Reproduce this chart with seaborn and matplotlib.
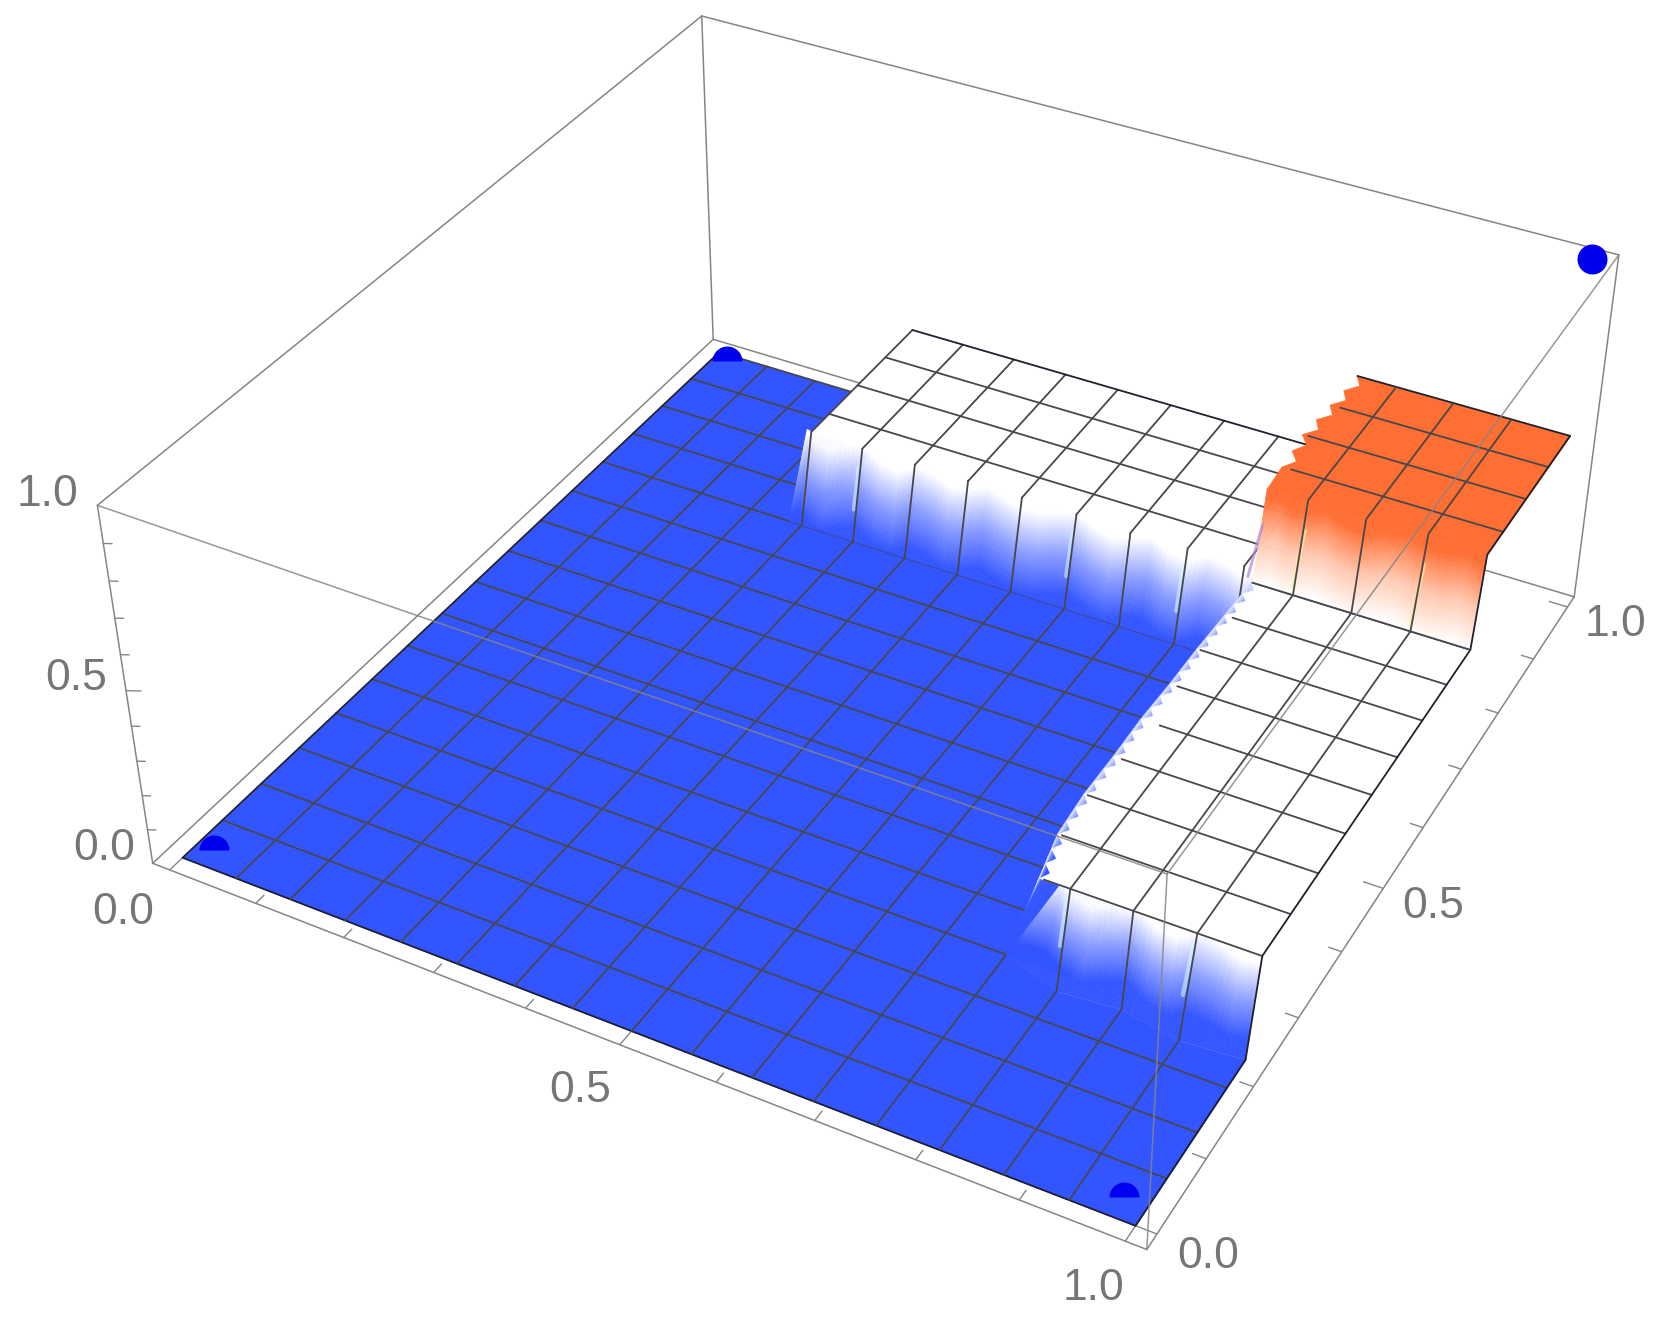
import numpy as np
import matplotlib
matplotlib.use("Agg")
import matplotlib.pyplot as plt
import seaborn as sns
from mpl_toolkits.mplot3d.art3d import Poly3DCollection

# ---------- data ----------
levels = [0.0, 0.255, 0.5]                    # blue floor, white plateau, orange plateau
n_cells = 16
box_pad = 0.02
tick_x = [0.0, 0.1, 0.2, 0.3, 0.4, 0.5, 0.6, 0.7, 0.8, 0.9, 1.0]
tick_y = [0.0, 0.1, 0.2, 0.3, 0.4, 0.5, 0.6, 0.7, 0.8, 0.9, 1.0]
tick_z = [0.1, 0.2, 0.3, 0.4, 0.5, 0.6, 0.7, 0.8, 0.9]
major_ticks = [0.0, 0.5, 1.0]
points_x = [0.020, 0.977, 0.017, 1.000]
points_y = [0.023, 0.025, 0.988, 1.000]
points_z = [0.0, 0.0, 0.0, 1.0]

cliff_front_y = 0.25
cliff_back_y = 0.75
front_base_y = [0.25, 0.228, 0.234, 0.222, 0.228]          # columns 12..16
back_top_cols = [3.9, 4, 5, 6, 7, 8, 9, 10, 11, 12, 12.3]
back_top_y = [0.776, 0.774, 0.772, 0.772, 0.772, 0.772, 0.772, 0.769, 0.772, 0.772, 0.772]
back_base_cols = [3.75, 4, 5, 6, 7, 8, 9, 10, 11, 12, 12.3]
orange_top_cols = [12.3, 13, 14, 15, 16]
orange_top_y = [0.772, 0.772, 0.769, 0.775, 0.770]
mid_edge_rows = [4, 5, 6, 7, 8, 9, 10, 11, 12]
mid_edge_cols = [12.50, 12.30, 12.24, 12.24, 12.22, 12.24, 12.24, 12.26, 12.28]
mid_line_cols = [12.58, 12.37, 12.30, 12.38, 12.54, 12.37, 12.30, 12.40, 12.30]
orange_edge_rows = [13, 14, 15, 16]
orange_edge_cols = [12.26, 12.18, 12.24, 12.30]
orange_line_cols = [12.43, 12.29, 12.43, 12.31]
streak_blue = [0.04, -0.03, -0.07, 0.01, 0.06, -0.02, -0.07, 0.03,
               0.06, -0.05, -0.02, 0.05, 0.02, -0.06, 0.00, 0.05]
streak_orange = [0.02, -0.03, 0.03, 0.00, -0.04, 0.02, 0.04, -0.02, -0.03, 0.03]
cyan_back_cols = [5, 9, 11]
cyan_front_cols = [13, 15]
yellow_cols = [13, 15]

tick_labels = ["0.0", "0.5", "1.0"]
label_px_x = [(123, 912), (580, 1090), (1093, 1289)]
label_px_y = [(1208, 1257), (1433, 907), (1615, 625)]
label_px_z = [(104, 849), (76, 679), (48, 494)]

# box corners in picture pixels, used to recover the camera
corner_px = {(0, 0, 0): (153, 863), (1, 0, 0): (1147, 1250), (1, 1, 0): (1574, 597), (0, 1, 0): (713, 339),
             (0, 0, 1): (97, 506), (1, 0, 1): (1167, 873), (1, 1, 1): (1619, 255), (0, 1, 1): (702, 16)}

BLUE = "#3355FF"
ORANGE = "#FF6E33"
POINT = "#0000F0"
BOX = "#858585"
MESH = "#47474C"
EDGE = "#20202E"
TEXT = "#767676"
W, H = 1659, 1323

sns.set_theme(style="white")
plt.rcParams["font.family"] = ["Liberation Sans", "DejaVu Sans"]
blue_map = sns.blend_palette([BLUE, "#8C9EFF", "#FFFFFF"], as_cmap=True)
orange_map = sns.blend_palette(["#FFFFFF", "#FFC9B0", ORANGE], as_cmap=True)

fig = plt.figure(figsize=(W / 100, H / 100), dpi=100)
ax = fig.add_axes([0, 0, 1, 1], projection="3d", computed_zorder=False)
ax.set_axis_off()


# ---------- camera fitted to the box corners ----------
def world(c):
    lo, hi = -box_pad, 1 + box_pad
    return (hi if c[0] else lo, hi if c[1] else lo, float(c[2]))


def camera_matrix():
    to_data = ax.transData.inverted()
    rows = []
    for key, (px, py) in corner_px.items():
        u, v = to_data.transform((px, H - py))
        X, Y, Z = world(key)
        rows.append([X, Y, Z, 1, 0, 0, 0, 0, -u * X, -u * Y, -u * Z, -u])
        rows.append([0, 0, 0, 0, X, Y, Z, 1, -v * X, -v * Y, -v * Z, -v])
    P = np.linalg.svd(np.array(rows))[2][-1].reshape(3, 4)
    P = P / (P[2] @ np.array([0.5, 0.5, 0.5, 1.0]))
    return np.array([P[0], P[1], [0, 0, 0, -1.0], P[2]])


ax.get_proj = camera_matrix


# ---------- drawing helpers ----------
def line(pts, color=MESH, lw=1.3, z=3, alpha=None):
    p = np.array(pts, float)
    ax.plot(p[:, 0], p[:, 1], p[:, 2], color=color, lw=lw, zorder=z, alpha=alpha,
            solid_capstyle="round", solid_joinstyle="round")


def fill(pts, color, z):
    ax.add_collection3d(Poly3DCollection([np.array(pts, float)], facecolors=[color], edgecolors=[color],
                                         linewidths=0.4, zorder=z))


def wall(bottom, top, cmap, lo, span, streak, z, n_sub=12, n_t=40):
    bottom, top = np.array(bottom, float), np.array(top, float)
    verts, cols = [], []
    wrap = list(streak) + [streak[0]]
    for a in range(len(bottom) - 1):
        for j in range(n_sub):
            s0, s1 = j / n_sub, (j + 1) / n_sub
            b0, b1 = bottom[a] + (bottom[a + 1] - bottom[a]) * s0, bottom[a] + (bottom[a + 1] - bottom[a]) * s1
            t0, t1 = top[a] + (top[a + 1] - top[a]) * s0, top[a] + (top[a + 1] - top[a]) * s1
            off = np.interp((a + s0) * 3 % len(streak), range(len(wrap)), wrap)
            for i in range(n_t):
                u0, u1 = i / n_t, (i + 1) / n_t
                verts.append([b0 + (t0 - b0) * u0, b1 + (t1 - b1) * u0, b1 + (t1 - b1) * u1, b0 + (t0 - b0) * u1])
                val = np.clip(((i + 0.5) / n_t - lo + off) / span, 0, 1)
                cols.append(cmap(val))
    ax.add_collection3d(Poly3DCollection(verts, facecolors=cols, edgecolors=cols, linewidths=0.35, zorder=z))


def saw(cols, rows, teeth, depth):
    pts = []
    for a in range(len(rows) - 1):
        for j in range(teeth):
            t0, t1 = j / teeth, (j + 0.5) / teeth
            pts.append((cols[a] + (cols[a + 1] - cols[a]) * t0, rows[a] + (rows[a + 1] - rows[a]) * t0))
            pts.append((cols[a] + (cols[a + 1] - cols[a]) * t1 + depth, rows[a] + (rows[a + 1] - rows[a]) * t1))
    pts.append((cols[-1], rows[-1]))
    return [(x / n_cells, y / n_cells) for x, y in pts]


c = 1 / n_cells
h0, h1, h2 = levels
lo, hi = -box_pad, 1 + box_pad

# ---------- box, back part ----------
A, B, C, D = (lo, lo, 0), (hi, lo, 0), (hi, hi, 0), (lo, hi, 0)
E, F, G, K = (lo, lo, 1), (hi, lo, 1), (hi, hi, 1), (lo, hi, 1)
for seg in [(A, B), (B, C), (C, D), (D, A), (A, E), (D, K), (C, G), (E, K), (K, G)]:
    line(seg, BOX, 1.1, 1)

# ticks
for t in tick_x:
    size = 0.02 if t in major_ticks else 0.013
    line([(t, lo, 0), (t, lo + size, 0)], BOX, 1.0, 1)
for t in tick_y:
    size = 0.02 if t in major_ticks else 0.013
    line([(hi, t, 0), (hi - size, t, 0)], BOX, 1.0, 1)
for t in tick_z:
    k = 1.75 if t in major_ticks else 1.0
    line([(lo, lo, t), (lo + 0.0071 * k, lo + 0.0035 * k, t)], BOX, 1.0, 1)

# ---------- blue floor ----------
floor = [(0, 0), (1, 0)]
for col, y in zip([16, 15, 14, 13, 12], front_base_y[::-1]):
    floor.append((col * c, y))
floor += [(13 * c, cliff_front_y), (13 * c, cliff_back_y), (4 * c, cliff_back_y), (4 * c, 1), (0, 1)]
fill([(x, y, h0) for x, y in floor], BLUE, 2)

for i in range(n_cells + 1):
    y = i * c
    if i <= 3:
        end = 1.0
    elif i == 4:
        end = 12 * c
    elif i <= 12:
        end = 12.6 * c
    else:
        end = 4 * c
    line([(0, y, h0), (end, y, h0)], z=3, color=EDGE if i == 0 else MESH)
for k in range(n_cells + 1):
    x = k * c
    if k < 4:
        end = 1.0
    elif k <= 12:
        end = cliff_back_y
    else:
        end = front_base_y[k - 12]
    line([(x, 0, h0), (x, end, h0)], z=3, color=EDGE if k in (0, n_cells) else MESH)

ax.plot(points_x[:3], points_y[:3], points_z[:3], ls="", marker="o", ms=21.6, mew=0, color=POINT,
        fillstyle="top", markerfacecoloralt="none", zorder=3)
ax.plot(points_x[3:], points_y[3:], points_z[3:], ls="", marker="o", ms=21.6, mew=0, color=POINT, zorder=3)

# ---------- back cliff: blue up to white ----------
back_bottom = [(col * c, cliff_back_y, h0) for col in back_base_cols]
back_top = [(col * c, y, h1) for col, y in zip(back_top_cols, back_top_y)]
wall(back_bottom, back_top, blue_map, 0.08, 0.86, streak_blue, 4)
for col, y in zip(back_top_cols, back_top_y):
    if col == int(col) and col >= 4:
        if col in cyan_back_cols:
            line([(col * c - 0.002, cliff_back_y + 0.006, h1 * 0.35), (col * c - 0.002, y - 0.004, h1 * 0.8)],
                 "#D6FCFF", 3.0, 5, 0.55)
        line([(col * c, cliff_back_y, h0), (col * c, y, h1)], z=6)

# white plateau behind the cliff
back_plate = [(col * c, y, h1) for col, y in zip(back_top_cols[1:], back_top_y[1:])] + [(12.6 * c, 1, h1), (4 * c, 1, h1)]
fill(back_plate, "#FFFFFF", 5)
for k in range(4, 13):
    line([(k * c, back_top_y[k - 3], h1), (k * c, 1, h1)], z=6)
for i in range(13, n_cells + 1):
    line([(4 * c, i * c, h1), (12.6 * c, i * c, h1)], z=6, color=EDGE if i == n_cells else MESH)

# ---------- front cliff: blue up to white ----------
front_bottom = [(col * c, y, h0) for col, y in zip([12, 13, 14, 15, 16], front_base_y)]
front_top = [(col * c, cliff_front_y, h1) for col in [12.5, 13, 14, 15, 16]]
wall(front_bottom, front_top, blue_map, 0.22, 0.74, streak_blue, 7)
for k in range(13, 17):
    by = front_base_y[k - 12]
    if k in cyan_front_cols:
        line([(k * c - 0.002, by + 0.008, h1 * 0.45), (k * c - 0.002, cliff_front_y - 0.002, h1 * 0.92)],
             "#D6FCFF", 3.0, 8, 0.55)
    line([(k * c, by, h0), (k * c, cliff_front_y, h1)], z=8, color=EDGE if k == 16 else MESH)

# ---------- white plateau on the right ----------
mid_saw = saw(mid_edge_cols, mid_edge_rows, 3, 0.12)
rim_bottom = [(12 * c, r * c, h0) for r in mid_edge_rows]
rim_top = [(x * c, r * c, h1) for x, r in zip(mid_edge_cols, mid_edge_rows)]
wall(rim_bottom, rim_top, blue_map, 0.62, 0.42, [0.0], 9, n_sub=2, n_t=16)
mid_plate = [(x, y, h1) for x, y in mid_saw] + [(1, cliff_back_y, h1), (1, cliff_front_y, h1)]
fill(mid_plate, "#FFFFFF", 10)
for i, x0 in zip(mid_edge_rows, mid_line_cols):
    line([(x0 * c, i * c, h1), (1, i * c, h1)], z=11)
for k in range(13, 17):
    line([(k * c, cliff_front_y, h1), (k * c, cliff_back_y, h1)], z=11, color=EDGE if k == 16 else MESH)

# ---------- orange cliff and plateau ----------
orange_bottom = [(col * c, cliff_back_y, h1) for col in orange_top_cols]
orange_top = [(col * c, y, h2) for col, y in zip(orange_top_cols, orange_top_y)]
wall(orange_bottom, orange_top, orange_map, 0.0, 0.90, streak_orange, 12)
line([(12.2 * c, cliff_back_y + 0.002, h1 + 0.01), (12.3 * c, cliff_back_y + 0.016, h2 - 0.1)], "#B08AD8", 2.2, 13, 0.7)
for k, y in zip(orange_top_cols[1:], orange_top_y[1:]):
    if k in yellow_cols:
        line([(k * c - 0.001, cliff_back_y, h1 + 0.02), (k * c - 0.001, y, h2 - 0.09)], "#F6F29A", 2.8, 13, 0.6)
    line([(k * c, cliff_back_y, h1), (k * c, y, h2)], z=13, color=EDGE if k == 16 else MESH)

or_saw = saw(orange_edge_cols, orange_edge_rows, 2, 0.16)
or_plate = [(x, y, h2) for x, y in or_saw] + [(1, 1, h2)] + [(col * c, y, h2) for col, y in
                                                            zip(orange_top_cols[::-1], orange_top_y[::-1])]
fill(or_plate, ORANGE, 14)
for i, x0 in zip(orange_edge_rows, orange_line_cols):
    line([(x0 * c, i * c, h2), (1, i * c, h2)], z=15, color=EDGE if i == n_cells else MESH)
for k, y in zip(orange_top_cols[1:], orange_top_y[1:]):
    line([(k * c, y, h2), (k * c, 1, h2)], z=15, color=EDGE if k == 16 else MESH)
line([(12.3 * c, cliff_back_y, h1), (1, cliff_back_y, h1)], z=15)

# ---------- box, front part ----------
for seg in [(E, F), (B, F), (F, G)]:
    line(seg, BOX, 1.1, 20, 0.85)

for artist in ax.get_children():
    artist.set_clip_on(False)

# ---------- tick labels ----------
for group in (label_px_x, label_px_y, label_px_z):
    for text, (px, py) in zip(tick_labels, group):
        fig.text(px / W, 1 - py / H, text, ha="center", va="center", fontsize=32, color=TEXT)

fig.savefig("out.png", dpi=100)
